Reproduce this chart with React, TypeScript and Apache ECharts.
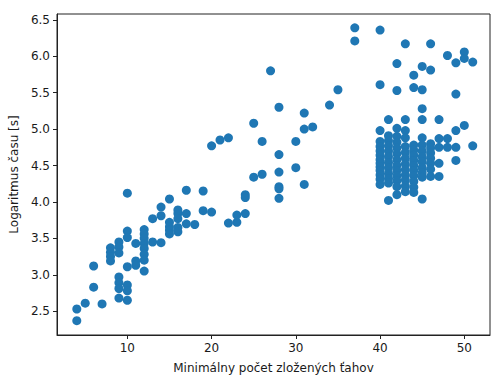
import React, { useEffect, useRef } from "react";
import * as echarts from "echarts";

const xTicks = [10, 20, 30, 40, 50];
const yTicks = [2.5, 3.0, 3.5, 4.0, 4.5, 5.0, 5.5, 6.0, 6.5];

// x value of each column of points
const xColumns = [4, 5, 6, 7, 8, 9, 10, 11, 12, 13, 14, 15, 16, 17, 18, 19, 20, 21, 22, 23, 24, 25, 26, 27, 28, 30, 31, 32, 34, 35, 37, 40, 41, 42, 43, 44, 45, 46, 47, 48, 49, 50, 51];
// y values (log time) for each column
const yByColumn = [
  [2.37, 2.53],
  [2.61],
  [2.83, 3.12],
  [2.6],
  [3.37, 3.31, 3.25, 3.19],
  [3.45, 3.38, 3.3, 2.97, 2.89, 2.81, 2.68],
  [4.12, 3.6, 3.51, 3.11, 2.86, 2.78, 2.65],
  [3.43, 3.19, 3.13],
  [3.62, 3.56, 3.5, 3.43, 3.36, 3.28, 3.2, 3.05],
  [3.77, 3.45],
  [3.93, 3.81, 3.44],
  [4.04, 3.72, 3.66, 3.61, 3.56],
  [3.89, 3.84, 3.77, 3.65, 3.59],
  [4.16, 3.84, 3.7],
  [3.69],
  [4.15, 3.88],
  [4.77, 3.86],
  [4.85],
  [4.88, 3.71],
  [3.72, 3.82],
  [4.1, 4.06, 3.84],
  [5.08, 4.34],
  [4.83, 4.38],
  [5.8],
  [5.3, 4.65, 4.41, 4.21, 4.18, 4.05],
  [4.83, 4.47],
  [5.22, 5.0, 4.24],
  [5.03],
  [5.33],
  [5.54],
  [6.39, 6.21],
  [6.36, 5.61, 4.98, 4.83, 4.76, 4.7, 4.64, 4.58, 4.53, 4.48, 4.43, 4.37, 4.31, 4.24],
  [5.13, 4.91, 4.84, 4.77, 4.7, 4.62, 4.54, 4.47, 4.39, 4.32, 4.26, 4.02],
  [5.9, 5.53, 5.01, 4.9, 4.82, 4.74, 4.66, 4.58, 4.5, 4.43, 4.36, 4.29, 4.21, 4.1],
  [6.17, 5.13, 4.98, 4.88, 4.76, 4.68, 4.6, 4.52, 4.44, 4.37, 4.3, 4.22, 4.14],
  [5.74, 5.57, 4.78, 4.71, 4.64, 4.57, 4.5, 4.43, 4.36, 4.28, 4.2, 4.13],
  [5.86, 5.54, 5.28, 5.13, 4.88, 4.78, 4.7, 4.62, 4.55, 4.47, 4.4, 4.34, 4.04],
  [6.17, 5.81, 4.8, 4.74, 4.67, 4.6, 4.53, 4.45, 4.35],
  [5.13, 4.87, 4.75, 4.53, 4.35],
  [6.01, 4.87, 4.75],
  [5.91, 5.48, 4.98, 4.75, 4.57],
  [6.06, 5.97, 5.05],
  [5.92, 4.77],
];

const xLabel = "Minimálny počet zložených ťahov";
const yLabel = "Logaritmus času [s]";

export default function App() {
  const ref = useRef<HTMLDivElement>(null);
  useEffect(() => {
    if (!ref.current) return;
    const chart = echarts.init(ref.current, undefined, { renderer: "svg" });
    const data: number[][] = [];
    xColumns.forEach((x, i) => {
      yByColumn[i].forEach((y) => data.push([x, y]));
    });
    const font = "DejaVu Sans";
    const textColor = "#1a1a1a";
    chart.setOption({
      animation: false,
      grid: {
        left: 57,
        right: 1,
        top: 14,
        bottom: 41,
        show: true,
        borderColor: "#222",
        borderWidth: 1,
        backgroundColor: "transparent",
      },
      xAxis: {
        type: "value",
        min: 1.65,
        max: 53.05,
        name: xLabel,
        nameLocation: "middle",
        nameGap: 27,
        nameTextStyle: { fontFamily: font, fontSize: 12, color: textColor },
        axisLine: { show: true, onZero: false, lineStyle: { color: "#222", width: 1 } },
        axisTick: { show: true, customValues: xTicks, length: 4, lineStyle: { color: "#222" } },
        axisLabel: { customValues: xTicks, fontFamily: font, fontSize: 12, color: textColor, margin: 7 },
        splitLine: { show: false },
      },
      yAxis: {
        type: "value",
        min: 2.173,
        max: 6.58,
        name: yLabel,
        nameLocation: "middle",
        nameGap: 34,
        nameTextStyle: { fontFamily: font, fontSize: 12, color: textColor },
        axisLine: { show: true, onZero: false, lineStyle: { color: "#222", width: 1 } },
        axisTick: { show: true, customValues: yTicks, length: 4, lineStyle: { color: "#222" } },
        axisLabel: {
          customValues: yTicks,
          fontFamily: font,
          fontSize: 12,
          color: textColor,
          margin: 7,
          formatter: (v: number) => v.toFixed(1),
        },
        splitLine: { show: false },
      },
      series: [
        {
          type: "scatter",
          data,
          symbolSize: 9,
          itemStyle: { color: "#1f77b4", opacity: 1 },
        },
      ],
    });
    return () => chart.dispose();
  }, []);
  return <div ref={ref} style={{ width: 491, height: 379, position: "absolute", left: 0, top: 0 }} />;
}
